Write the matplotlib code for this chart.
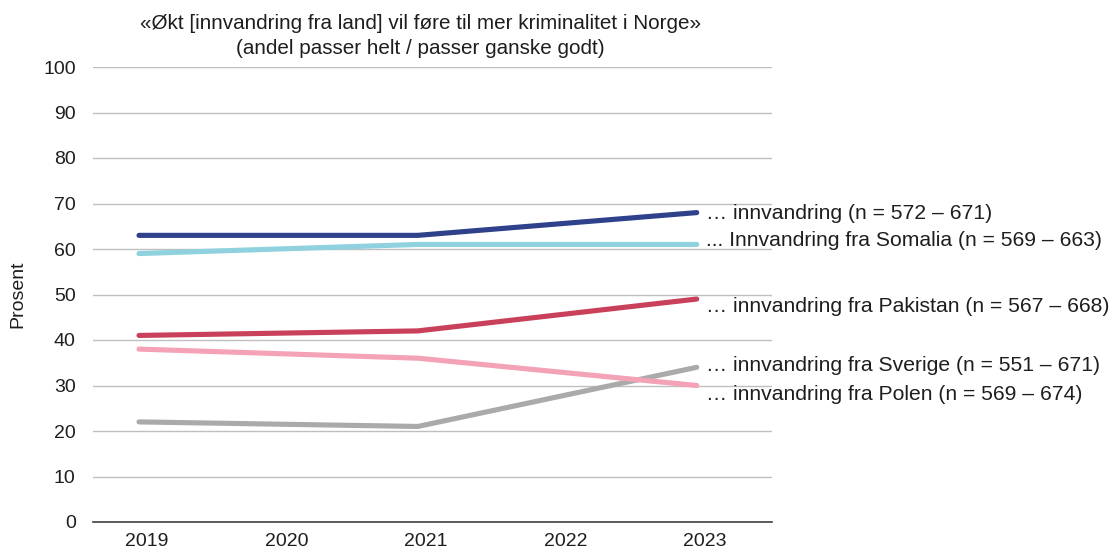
import matplotlib
matplotlib.use("Agg")
import matplotlib.pyplot as plt
from matplotlib.transforms import ScaledTranslation

years = ["2019", "2020", "2021", "2022", "2023"]
data_years = [0, 2, 4]  # positions of 2019, 2021, 2023
series_names = [
    "… innvandring (n = 572 – 671)",
    "... Innvandring fra Somalia (n = 569 – 663)",
    "… innvandring fra Pakistan (n = 567 – 668)",
    "… innvandring fra Sverige (n = 551 – 671)",
    "… innvandring fra Polen (n = 569 – 674)",
]
v_innvandring = [63, 63, 68]
v_somalia = [59, 61, 61]
v_pakistan = [41, 42, 49]
v_sverige = [22, 21, 34]
v_polen = [38, 36, 30]
colors = ["#2f418a", "#8fd1df", "#c9405a", "#abaaab", "#f4a2b5"]
label_y = [67.9, 61.8, 47.3, 34.3, 28.1]

plt.rcParams['font.family'] = ['Liberation Sans', 'DejaVu Sans']

fig = plt.figure(figsize=(11.14, 5.52), dpi=100)
ax = fig.add_axes([93/1114, 30/552, (772-93)/1114, (522-67)/552])

all_vals = [v_innvandring, v_somalia, v_pakistan, v_sverige, v_polen]
for vals, c in zip(all_vals, colors):
    ax.plot(data_years, vals, color=c, lw=3.7, solid_capstyle='round', zorder=3)

for name, ly in zip(series_names, label_y):
    ax.text(4.065, ly, name, fontsize=15.2, va='center', ha='left', color='#1e1e1e',
            clip_on=False)

ax.set_xlim(-0.33, 4.54)
ax.set_ylim(0, 100)
ax.set_xticks(range(len(years)))
ax.set_xticklabels(years)
ax.set_yticks(range(0, 101, 10))
ax.tick_params(axis='both', length=0, labelsize=14, colors='#1e1e1e')
ax.tick_params(axis='y', pad=12.5)
ax.tick_params(axis='x', pad=8)
off = ScaledTranslation(8/100, 0, fig.dpi_scale_trans)
for lab in ax.get_xticklabels():
    lab.set_transform(lab.get_transform() + off)
ax.yaxis.grid(True, color='#bfbfbf', lw=1)
ax.set_axisbelow(True)
for s in ['top', 'right', 'left']:
    ax.spines[s].set_visible(False)
ax.spines['bottom'].set_color('#404040')
ax.spines['bottom'].set_linewidth(1.2)
ax.set_ylabel("Prosent", fontsize=14, color='#1e1e1e', labelpad=12)

fig.text(420/1114, 1 - 36/552,
         "«Økt [innvandring fra land] vil føre til mer kriminalitet i Norge»\n(andel passer helt / passer ganske godt)",
         ha='center', va='center', fontsize=14.9, color='#1e1e1e', linespacing=1.45)

fig.savefig("out.png", dpi=100)
